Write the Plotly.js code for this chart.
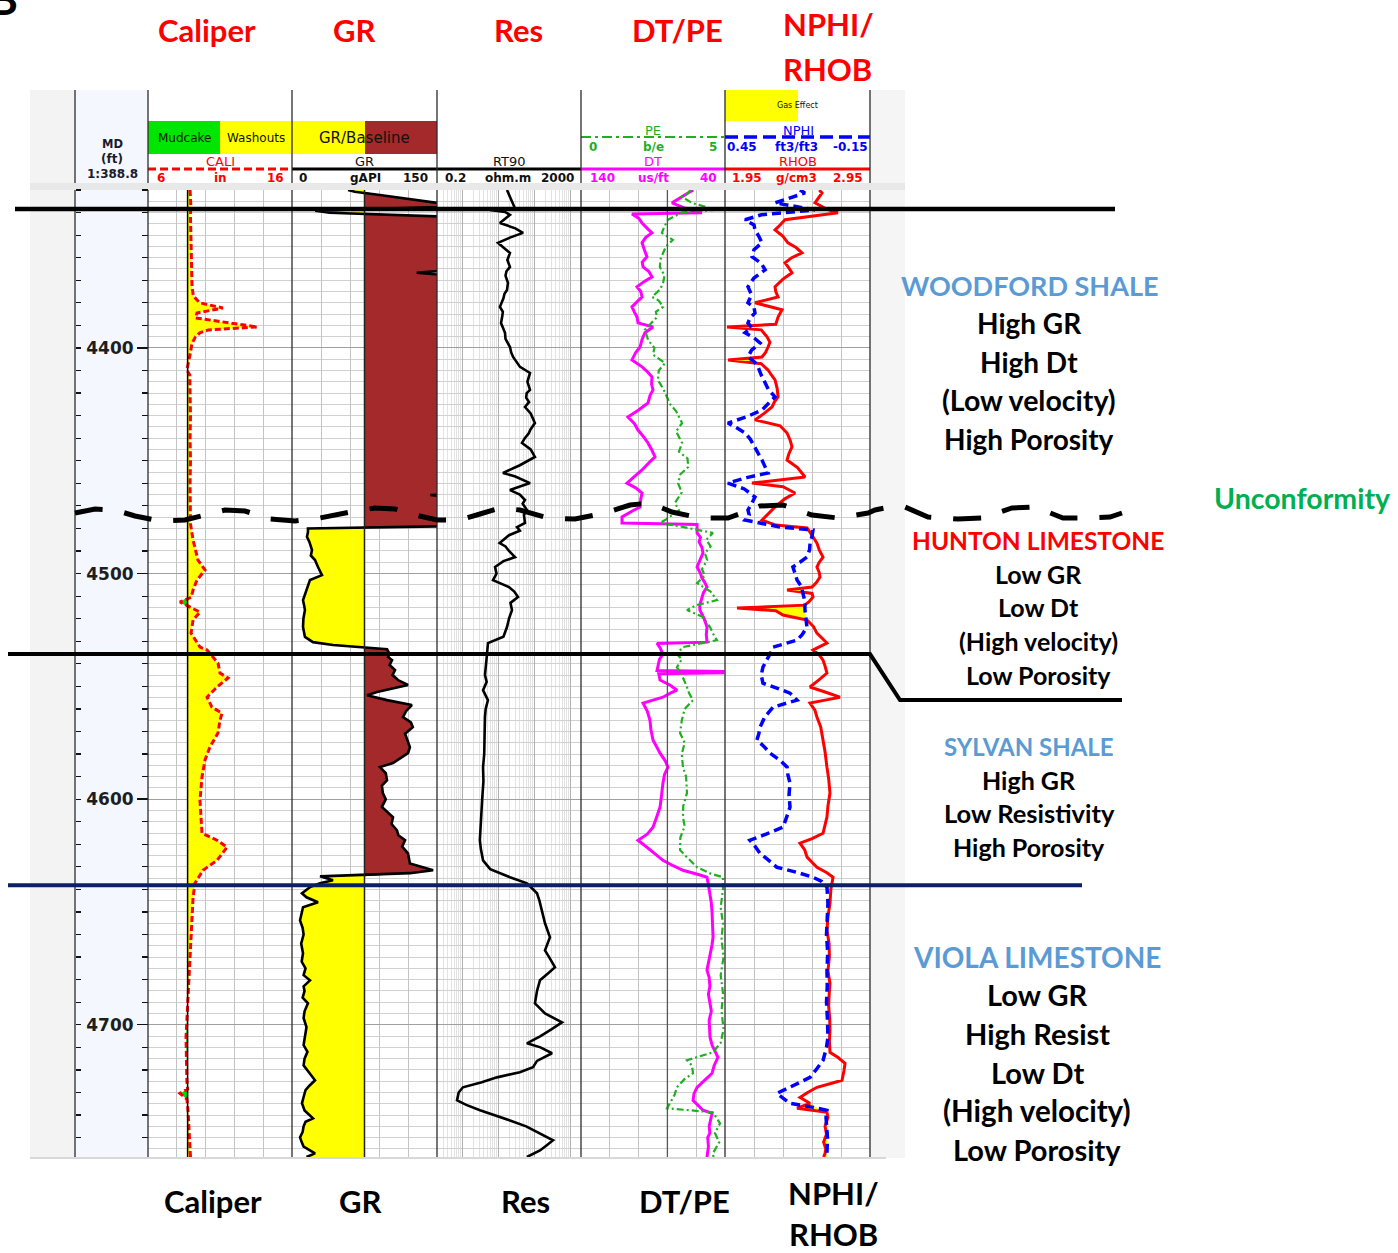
<!DOCTYPE html>
<html>
<head>
<meta charset="utf-8">
<script src="https://cdn.plot.ly/plotly-3.0.1.min.js"></script>
<style>
  html, body { margin: 0; padding: 0; background: #ffffff; }
  #log { width: 1398px; height: 1253px; }
</style>
</head>
<body>
<div id="log"></div>
<script>
// ---------------------------------------------------------------------------
// Well log samples: [measured depth (ft), reading]
// ---------------------------------------------------------------------------
const caliLog = [ // caliper, in
  [4330,8.92],[4336,8.97],[4342,8.95],[4350,8.97],[4358,9.0],[4366,9.03],[4373,9.06],[4377,9.15],
  [4380,9.6],[4382.3,11.2],[4384.5,9.4],[4386.7,9.3],[4388.9,11.5],[4390.7,13.6],[4392,10.2],
  [4393.3,9.6],[4395.1,9.3],[4398,9.05],[4402,8.95],[4409.8,8.7],[4412,8.9],[4420,8.92],[4430,8.95],
  [4440,8.92],[4450,8.95],[4460,8.92],[4468.7,8.92],[4478,8.95],[4485.1,9.13],[4494,9.47],
  [4498.4,9.96],[4502.9,9.4],[4507.3,9.13],[4510.5,9.0],[4512.6,8.22],[4514.9,8.92],[4517.1,9.61],
  [4520.6,9.13],[4526.4,8.99],[4532.6,9.61],[4533.9,10.1],[4537,10.51],[4539.7,10.86],[4544.1,11.0],
  [4546.3,11.56],[4550.3,10.79],[4554.8,10.1],[4559.2,10.44],[4561.9,11.14],[4565,11.0],[4570.7,10.86],
  [4576.9,10.3],[4582.6,9.96],[4590.2,9.75],[4600.5,9.61],[4615.1,9.75],[4618.2,10.79],[4621.3,11.49],
  [4624,11.14],[4627.1,10.79],[4631.5,9.82],[4637.3,9.26],[4643.5,9.13],[4661.2,8.99],[4690.5,8.78],
  [4705.5,8.64],[4725,8.7],[4728.5,8.75],[4730.4,8.22],[4733,8.7],[4737.9,8.78],[4750,8.9],
  [4757,8.92],[4758.6,8.95]
];

const grLog = [ // gamma ray, gAPI
  [4330,58],[4330.8,65],[4332.2,91],[4334,122],[4335.7,150],[4336.6,165],[4337.5,155],[4338,110],
  [4338.4,70],[4339.2,24],[4340.1,39],[4341,112],[4341.9,165],[4350,170],[4365.4,165],[4366.7,129],
  [4368,165],[4400,170],[4465,160],[4465.2,143],[4465.8,160],[4479,165],[4479.6,60],[4480,16.5],
  [4481.6,16.5],[4483.7,15.5],[4486,18],[4489.6,20.7],[4492,19.5],[4494,23.8],[4497.1,26.9],
  [4500.7,31],[4502.9,18.6],[4505,17],[4507.3,15.5],[4509.5,13.5],[4511.8,11.4],[4514,12.5],
  [4516.2,13.4],[4520,11.8],[4523.7,11.4],[4528.1,13.4],[4530.4,21.7],[4531.7,42.4],
  [4532.6,73.4],[4533.5,98.3],[4535.7,101],[4537,99.3],[4538.4,103.5],[4540.5,101],[4542.8,106.6],
  [4545,104],[4547.2,109.7],[4549.4,120],[4552.5,88],[4553.9,77.6],[4556.1,98.3],[4558.3,124],
  [4561,118],[4563.6,114.8],[4566,123],[4568.1,125],[4571,117],[4573.8,119],[4577,122],[4579.6,120],
  [4582,112],[4584,104.5],[4585.8,91],[4588.5,97],[4591.6,98.3],[4594,93],[4597.3,94],[4600,97],
  [4603.5,93],[4606,99],[4608,104.5],[4611,103],[4613.8,108.6],[4616,110],[4618.2,117],[4621,114],
  [4624,120],[4628.5,122],[4631.5,146],[4632.8,122],[4634.2,29],[4635.9,42.4],[4637.3,29],
  [4639,18.6],[4641.7,10.3],[4643.5,15],[4645.7,26.9],[4647.9,11.4],[4650.5,10],[4653.7,8.3],
  [4657,11],[4660,12],[4664,9.5],[4668.3,11.4],[4672,10],[4675,14],[4678,12],[4680.3,18.6],[4683,12],
  [4685,13],[4688,11],[4690.5,16.5],[4694,13],[4697,12],[4701,15],[4705.5,13.4],[4709,12],[4712,16],
  [4715,13],[4718,12],[4721,17],[4724.6,23.8],[4727,18],[4729,14],[4732,12],[4734.8,10.3],[4738,13],
  [4741.5,21.7],[4743,14],[4745,12],[4747.5,11],[4749.9,8.3],[4752,10],[4754,12],[4757,23.8],[4758.6,15]
];

const rt90Log = [ // deep resistivity, ohm.m
  [4330,17.6],[4333,21],[4336,25],[4338,29],[4338.8,5.9],[4339.7,15.5],[4341,21.3],[4344.6,11.2],
  [4347,30],[4349,49],[4351,22],[4353.4,9.9],[4355.5,14],[4357.9,21.3],[4361,18],[4364.1,21.3],
  [4366,17],[4368,16],[4371.2,18.7],[4374.3,17.6],[4376,15],[4378,14],[4381.8,11.2],[4384,13.5],
  [4386,13],[4389,12],[4393.3,15.5],[4396,16],[4399.6,21.3],[4402,23],[4404,26],[4406,31],[4408.4,40.4],
  [4411.1,76.6],[4413,70],[4415,65],[4418.6,76.6],[4420,62],[4422,60],[4424,72],[4426.2,55.6],
  [4429,80],[4433.3,105],[4436,80],[4438,70],[4440,55],[4442.1,45.9],[4445,80],[4448.3,105],
  [4450,70],[4452,40],[4455.4,13.6],[4457,30],[4459.9,76.6],[4463,21.3],[4465,40],[4467.4,55.6],
  [4469,48],[4471.8,63],[4474,52],[4477.6,55.6],[4479.4,33.4],[4481,40],[4483,20],[4486.5,11],
  [4488,16],[4490,20],[4492.7,29.4],[4494.5,14],[4497.1,8.2],[4500,9],[4502.9,7.2],[4506,20],
  [4508,28],[4510.4,35.6],[4513,22],[4516.2,24.2],[4520,20],[4523.7,17.6],[4528,14],[4530.8,5.2],
  [4535.7,4.9],[4540,4.6],[4545,4.3],[4548,4.8],[4551.7,3.8],[4556.1,5.2],[4560,4.5],[4563.6,4.3],
  [4570,4.2],[4575,4.0],[4580,4.1],[4585.8,3.8],[4592,3.9],[4600,3.6],[4610,3.4],[4618.2,3.1],
  [4622,3.3],[4627.1,3.8],[4631,6],[4634.6,21.3],[4637.3,63],[4641.7,120],[4645,140],[4649.2,165],
  [4655,200],[4661.2,275],[4667,200],[4670,260],[4674.5,379],[4677,250],[4680.3,145],[4685,120],
  [4690.5,105],[4695,200],[4698.9,593],[4702,300],[4705,150],[4708.2,63],[4710,150],[4712.6,313],
  [4716,120],[4718.8,93],[4721,40],[4723.3,9.3],[4725.5,3.5],[4727.7,1.05],[4730,0.8],[4733.5,0.72],
  [4735.5,1.3],[4737.9,3.13],[4740,8],[4742.4,21.3],[4745,60],[4748.1,145],[4751.2,334],[4753.5,220],
  [4755.7,145],[4758.6,63]
];

const dtLog = [ // sonic slowness, us/ft
  [4330,62],[4331.3,65.7],[4335.7,76.8],[4338,68],[4340.1,56],[4340.6,104.6],[4342.5,100],[4344.6,97.6],
  [4347,94],[4349,90.7],[4351,95],[4353.4,97.6],[4356.5,96],[4359.6,94.2],[4362,97.5],[4364.1,96.9],
  [4366,93],[4368.5,90.7],[4370.5,96],[4372.9,101.1],[4375,98.5],[4377.4,97.6],[4379.5,101],
  [4381.8,104.6],[4384,103],[4386.3,101.1],[4388.9,100.4],[4390.7,90],[4393.3,95.6],[4396,97.5],
  [4399.6,99],[4402,102],[4405.3,104.6],[4408.4,97.6],[4410.5,94],[4412.9,90.7],[4416,91],[4418.6,90],
  [4421,92],[4424.4,93.5],[4427.5,100],[4430.6,107.4],[4433.5,103],[4436.4,100.4],[4439,97],
  [4442.1,93.5],[4445,91],[4448.3,88.6],[4451,93],[4454.1,97.6],[4457,103],[4459.9,108.1],[4462,102],
  [4464.3,97.6],[4467,98.5],[4470.5,99],[4472.5,105],[4474.9,111.5],[4477.6,111.5],[4478.3,59.4],
  [4482,59.4],[4484,57],[4486,58],[4488.5,56],[4490.9,55.3],[4494,57.5],[4497.1,59.4],[4500,57],
  [4502,56],[4504,54],[4506,52.5],[4508.5,55],[4511,56],[4514,57.5],[4516.2,57.4],[4520,54.5],
  [4523.7,52.5],[4527,53],[4530.4,52.5],[4531,87.2],[4533,85],[4535.7,83.1],[4538,85.5],[4540,86],
  [4543,87.2],[4543.4,41.4],[4544,41.4],[4544.4,86],[4547.2,85.1],[4549.5,78],[4551.7,73.3],
  [4553,78],[4554.8,83.1],[4557.4,96.9],[4561,94],[4565,92.1],[4569,91.5],[4573.8,90],[4577,87.5],
  [4579.6,85.1],[4583,81.5],[4585.8,79.6],[4589,82],[4592.9,83.1],[4598,84],[4603.5,85.1],[4608,87.5],
  [4612.4,90],[4615.5,94],[4618.2,100.4],[4621.3,94.2],[4624,89],[4627.1,83.1],[4629.5,76],
  [4631.5,69.2],[4633.5,58],[4634.6,52.5],[4638,51.5],[4641.7,50.4],[4646,49.5],[4650,49],
  [4655,48.5],[4661.2,48.3],[4664.5,49],[4668,50],[4672,51.5],[4675.8,52.5],[4679,51],[4683,50.5],
  [4686.5,51.5],[4690.5,50.4],[4694,49.5],[4698,51],[4701.5,50.5],[4705.5,50.4],[4709,49],
  [4711.5,47],[4714.4,44.9],[4718,47.5],[4721.5,49],[4724.5,54],[4727.7,59.4],[4730.5,61.5],
  [4733.5,62.2],[4735.5,59],[4737.9,55.3],[4739.2,49],[4742,50],[4745,51],[4748,50.5],[4750,52],
  [4754,51.5],[4758.6,52.5]
];

const peLog = [ // photoelectric factor, b/e
  [4330,3.8],[4331.3,3.72],[4333,3.5],[4335.7,3.85],[4337,4.2],[4338.8,4.65],[4340,3.5],[4343.2,3.02],
  [4346,2.9],[4349,2.81],[4352.1,3.19],[4355,2.95],[4357.9,2.85],[4361,2.75],[4364.1,2.74],[4368,2.9],
  [4371.2,2.85],[4374,2.75],[4377.4,2.47],[4379,2.7],[4381.8,2.85],[4384,2.6],[4386.3,2.64],[4389,2.45],
  [4392,2.22],[4396.5,2.33],[4400,2.55],[4403,2.5],[4406.7,2.92],[4410,2.7],[4414.2,2.67],[4418,2.85],
  [4421.7,2.99],[4425,3.1],[4428,3.3],[4433.3,3.51],[4437,3.3],[4442.1,3.51],[4446,3.4],[4449,3.7],
  [4452.8,3.72],[4456,3.45],[4459.9,3.37],[4464,3.5],[4468.7,3.26],[4472,3.4],[4476.3,2.92],
  [4477.6,2.74],[4479,3.4],[4482,4.58],[4485,4.35],[4488,4.5],[4491,4.3],[4494,4.38],[4498,4.2],
  [4501,4.3],[4504.2,4.03],[4508,4.5],[4511.8,4.72],[4514,4.0],[4516.2,3.68],[4519,4.2],[4523.7,4.48],
  [4527,4.6],[4529.5,4.72],[4531,4.2],[4532.6,3.54],[4535.7,3.33],[4538,3.5],[4541.5,3.33],[4545,3.5],
  [4550.3,3.68],[4553,3.75],[4556.1,3.89],[4560,3.6],[4565,3.5],[4570.7,3.44],[4575,3.6],[4580,3.5],
  [4585.8,3.54],[4590,3.65],[4597.3,3.68],[4603,3.55],[4608,3.54],[4612,3.6],[4617,3.45],[4622.6,3.44],
  [4626,3.7],[4630.2,4.03],[4633,4.5],[4634.6,4.93],[4640,4.93],[4648,4.85],[4655,4.93],[4662,4.88],
  [4670,4.95],[4678,4.85],[4686,4.93],[4694,4.88],[4702,4.95],[4708,4.85],[4712.2,4.58],[4715.7,3.68],
  [4718,3.85],[4721.5,3.89],[4724,3.6],[4727.7,3.33],[4731,3.25],[4734.8,3.09],[4737,2.99],
  [4738.8,4.58],[4743.7,4.83],[4748,4.65],[4752,4.8],[4757,4.58],[4758.6,4.6]
];

const nphiLog = [ // neutron porosity, ft3/ft3
  [4330,0.14],[4331.3,0.119],[4335.7,0.243],[4338.8,0.078],[4341,0.3],[4343.2,0.367],[4345.5,0.33],
  [4347.7,0.326],[4350.5,0.31],[4353.4,0.297],[4356.5,0.33],[4359.6,0.338],[4362.5,0.3],[4365.4,0.284],
  [4369,0.33],[4372.9,0.355],[4376.5,0.34],[4380,0.355],[4382,0.33],[4384.5,0.326],[4386.5,0.345],
  [4388.9,0.355],[4391,0.34],[4393.3,0.367],[4395.5,0.33],[4397.8,0.305],[4401,0.34],[4404,0.355],
  [4406,0.33],[4408.4,0.313],[4412,0.3],[4415.5,0.284],[4418.5,0.27],[4421.7,0.243],[4424.5,0.27],
  [4427.5,0.297],[4430.5,0.36],[4433.3,0.438],[4435.5,0.4],[4437.7,0.367],[4440.5,0.345],
  [4443.9,0.326],[4447,0.31],[4449.7,0.297],[4452.5,0.285],[4455.4,0.272],[4457.5,0.36],
  [4459.9,0.438],[4462.5,0.37],[4466.1,0.326],[4469,0.34],[4471.8,0.355],[4474,0.35],[4476.3,0.367],
  [4479.4,0.222],[4480.7,0.086],[4483.5,0.09],[4486.5,0.098],[4489.5,0.1],[4492.7,0.111],[4495,0.14],
  [4497.1,0.169],[4500,0.16],[4502.9,0.152],[4505.5,0.135],[4508.6,0.127],[4512,0.12],[4516.2,0.119],
  [4520,0.115],[4523.7,0.111],[4527,0.13],[4529.5,0.152],[4531,0.2],[4532.6,0.251],[4535.7,0.264],
  [4538.5,0.28],[4541.5,0.293],[4545,0.3],[4548.6,0.293],[4551,0.23],[4553,0.181],[4556.1,0.152],
  [4559.2,0.251],[4563.5,0.285],[4568.1,0.305],[4571,0.31],[4573.8,0.318],[4576.5,0.29],
  [4579.6,0.264],[4583,0.22],[4585.8,0.193],[4589,0.19],[4592.9,0.181],[4598,0.185],[4603.5,0.181],
  [4608,0.195],[4612.4,0.21],[4615.5,0.28],[4618.2,0.347],[4621,0.325],[4624,0.305],[4627,0.27],
  [4630.2,0.235],[4632.5,0.15],[4634.6,0.086],[4636.5,0.05],[4639,0.028],[4646.1,0.024],[4653,0.028],
  [4660,0.03],[4668,0.025],[4675.8,0.028],[4683,0.027],[4690,0.03],[4698,0.026],[4705.5,0.024],
  [4710,0.03],[4715.7,0.044],[4719.5,0.07],[4723.3,0.098],[4725.5,0.14],[4727.7,0.181],[4730.4,0.235],
  [4732.5,0.21],[4734.8,0.181],[4736.5,0.09],[4737.9,0.028],[4741,0.032],[4745,0.03],[4750,0.026],
  [4757,0.028],[4758.6,0.03]
];

const rhobLog = [ // bulk density, g/cm3
  [4330,2.6],[4331.3,2.619],[4335.7,2.571],[4338.5,2.65],[4340.1,2.729],[4343.2,2.364],[4345.5,2.33],
  [4347.7,2.295],[4350.5,2.35],[4353.4,2.384],[4355.5,2.44],[4357.9,2.481],[4360,2.41],[4362.3,2.364],
  [4364.5,2.39],[4366.7,2.412],[4369.5,2.35],[4372.9,2.295],[4375,2.3],[4377.4,2.316],[4380,2.157],
  [4383.1,2.343],[4386.3,2.316],[4389.5,2.3],[4390.7,1.964],[4392,2.2],[4395.1,2.24],[4397.5,2.26],
  [4399.6,2.247],[4402,2.23],[4404,2.205],[4405.3,1.971],[4407,2.2],[4409.8,2.247],[4412,2.27],
  [4414.2,2.295],[4418,2.31],[4421.7,2.316],[4424,2.29],[4426.2,2.274],[4429,2.22],[4431.9,2.157],
  [4434.5,2.33],[4437.7,2.378],[4441,2.4],[4443.9,2.412],[4447,2.39],[4449.7,2.378],[4453,2.45],
  [4457.2,2.502],[4459.9,2.136],[4461.5,2.35],[4464.3,2.433],[4467,2.36],[4470.5,2.295],[4473.5,2.25],
  [4476.3,2.205],[4478.5,2.3],[4479.8,2.516],[4483,2.55],[4486.5,2.584],[4489.5,2.6],[4492.7,2.626],
  [4495,2.6],[4497.1,2.584],[4499.5,2.6],[4501.6,2.605],[4504,2.58],[4506,2.55],[4507.3,2.378],
  [4508.8,2.55],[4510.4,2.557],[4512.5,2.53],[4514,2.5],[4515.3,2.033],[4516.5,2.3],[4518.4,2.35],
  [4520.6,2.516],[4523.5,2.56],[4526.4,2.584],[4528.5,2.62],[4530.8,2.653],[4532.5,2.6],[4533.9,2.557],
  [4536,2.6],[4538.4,2.626],[4541,2.64],[4544.1,2.653],[4547,2.6],[4550.3,2.536],[4552.5,2.64],
  [4554.8,2.743],[4556,2.65],[4557.4,2.536],[4560.5,2.57],[4563.6,2.584],[4568,2.61],[4573.8,2.626],
  [4579,2.64],[4585.8,2.653],[4591,2.665],[4597.3,2.674],[4603,2.66],[4608,2.653],[4612,2.64],
  [4615.1,2.626],[4617.5,2.55],[4619.5,2.467],[4622.5,2.5],[4625.7,2.516],[4628,2.55],[4630.2,2.584],
  [4632.5,2.65],[4634.6,2.695],[4640,2.68],[4646.1,2.674],[4652,2.66],[4658.1,2.653],[4664,2.668],
  [4670,2.67],[4676,2.66],[4681.6,2.674],[4687,2.668],[4692,2.665],[4697,2.672],[4702.4,2.674],
  [4707,2.67],[4712.2,2.674],[4714.5,2.73],[4717.1,2.778],[4720.5,2.77],[4724.6,2.757],[4726,2.68],
  [4727.7,2.584],[4730,2.52],[4732.2,2.467],[4734.8,2.536],[4737,2.447],[4738.8,2.653],[4741,2.66],
  [4745,2.64],[4748.5,2.65],[4752,2.63],[4755,2.645],[4757,2.64],[4758.6,2.63]
];

// Reference values used by the fills
const BIT_SIZE = 8.75;      // in
const GR_BASELINE = 75;     // gAPI
const PE_MARKER = 3;        // b/e

// Formation tops (ft MD)
const TOP_WOODFORD = 4338.4;
const TOP_SYLVAN = 4535.7;
const TOP_VIOLA = 4638.1;
const SYLVAN_LABEL_LEVEL = 4556.1;

// Depth window shown
const DEPTH_TOP = 4330, DEPTH_BASE = 4758.6;

// ---------------------------------------------------------------------------
const W = 1398, H = 1253;
const fx = p => p / W;          // pixel column -> paper x
const fy = p => 1 - p / H;      // pixel row -> paper y
const Y_DOMAIN = [fy(1157), fy(190)];

const depths = log => log.map(p => p[0]);
const values = log => log.map(p => p[1]);

function interpAt(log, d) {
  for (let i = 1; i < log.length; i++) {
    if (d <= log[i][0]) {
      const [d0, v0] = log[i - 1], [d1, v1] = log[i];
      return v0 + (v1 - v0) * (d - d0) / (d1 - d0);
    }
  }
  return log[log.length - 1][1];
}
// neutron reading expressed on the density scale (0.45..-0.15 spans 1.95..2.95)
const nphiOnRhob = v => 1.95 + (0.45 - v) / 0.6;

const hidden = { hoverinfo: 'skip', showlegend: false };
function edgeTrace(xs, ys, xa) {
  return Object.assign({ x: xs, y: ys, xaxis: xa, yaxis: 'y', mode: 'lines', line: { width: 0 } }, hidden);
}
function fillTrace(xs, ys, xa, color) {
  return Object.assign({ x: xs, y: ys, xaxis: xa, yaxis: 'y', mode: 'lines', line: { width: 0 },
    fill: 'tonextx', fillcolor: color }, hidden);
}
function curve(log, xa, color, width, dash) {
  return Object.assign({ x: values(log), y: depths(log), xaxis: xa, yaxis: 'y', mode: 'lines',
    line: { color, width, dash: dash || 'solid' } }, hidden);
}
// empty trace that only registers a tick-carrying depth axis
function axisHolder(ya) {
  return Object.assign({ x: [], y: [], xaxis: 'x', yaxis: ya, mode: 'lines' }, hidden);
}

const caliD = depths(caliLog), grD = depths(grLog), rhobD = depths(rhobLog);

const traces = [
  // caliper: washout (yellow) and mudcake (green) against bit size
  edgeTrace(caliD.map(() => BIT_SIZE), caliD, 'x'),
  fillTrace(caliLog.map(p => Math.max(p[1], BIT_SIZE)), caliD, 'x', '#ffff00'),
  edgeTrace(caliD.map(() => BIT_SIZE), caliD, 'x'),
  fillTrace(caliLog.map(p => Math.min(p[1], BIT_SIZE)), caliD, 'x', '#00e000'),
  curve(caliLog, 'x', '#ff0000', 3, '6px,3px'),

  // gamma ray: shale (brown) / clean (yellow) around the baseline
  edgeTrace(grD.map(() => GR_BASELINE), grD, 'x2'),
  fillTrace(grLog.map(p => Math.max(p[1], GR_BASELINE)), grD, 'x2', '#a3292b'),
  edgeTrace(grD.map(() => GR_BASELINE), grD, 'x2'),
  fillTrace(grLog.map(p => Math.min(p[1], GR_BASELINE)), grD, 'x2', '#ffff00'),
  curve(grLog, 'x2', '#000000', 2.6),

  // resistivity
  curve(rt90Log, 'x3', '#000000', 2.6),

  // sonic and PE
  curve(peLog, 'x5', '#1fb01f', 2.2, '7px,3px,2px,3px'),
  curve(dtLog, 'x4', '#ff00ff', 3),

  // density-neutron with gas crossover shading
  edgeTrace(values(rhobLog), rhobD, 'x6'),
  fillTrace(rhobLog.map(p => Math.max(p[1], nphiOnRhob(interpAt(nphiLog, p[0])))), rhobD, 'x6', '#ffff00'),
  curve(rhobLog, 'x6', '#ff0000', 3),
  curve(nphiLog, 'x7', '#0000ff', 3.5, '9px,5px'),

  axisHolder('y2'),
  axisHolder('y3')
];

// ---------------------------------------------------------------------------
const baseX = {
  anchor: 'y', showticklabels: false, ticks: '', zeroline: false, showline: false,
  showgrid: true, gridcolor: '#c4c4c4', gridwidth: 1, fixedrange: true
};
const depthTicks = {
  range: [DEPTH_BASE, DEPTH_TOP], anchor: 'free', showticklabels: false, showgrid: false,
  zeroline: false, showline: false, fixedrange: true, tick0: 4400, dtick: 10, ticks: 'outside',
  tickwidth: 1.2, tickcolor: '#111'
};
const layout = {
  width: W, height: H,
  margin: { l: 0, r: 0, t: 0, b: 0, pad: 0 },
  paper_bgcolor: '#ffffff', plot_bgcolor: '#ffffff',
  showlegend: false,
  xaxis: Object.assign({}, baseX, { domain: [fx(148), fx(292)], range: [6, 16], tick0: 6, dtick: 2 }),
  xaxis2: Object.assign({}, baseX, { domain: [fx(292), fx(437)], range: [0, 150], tick0: 0, dtick: 30 }),
  xaxis3: Object.assign({}, baseX, {
    domain: [fx(437), fx(581)], type: 'log', range: [Math.log10(0.2), Math.log10(2000)], dtick: 1,
    gridcolor: '#b0b0b0',
    minor: { dtick: 'D1', showgrid: true, gridcolor: '#e2e2e2', gridwidth: 1 }
  }),
  xaxis4: Object.assign({}, baseX, { domain: [fx(581), fx(725)], range: [140, 40], tick0: 40, dtick: 20 }),
  xaxis5: Object.assign({}, baseX, { overlaying: 'x4', range: [0, 5], showgrid: false }),
  xaxis6: Object.assign({}, baseX, { domain: [fx(725), fx(870)], range: [1.95, 2.95], tick0: 1.95, dtick: 0.2 }),
  xaxis7: Object.assign({}, baseX, { overlaying: 'x6', range: [0.45, -0.15], showgrid: false }),
  yaxis: {
    domain: Y_DOMAIN, range: [DEPTH_BASE, DEPTH_TOP], anchor: 'free', position: fx(148), side: 'left',
    tick0: 4400, dtick: 100, ticks: 'outside', ticklen: 11, tickwidth: 1.4, tickcolor: '#111',
    tickfont: { family: 'DejaVu Sans', size: 17, color: '#1e1e1e', weight: 'bold' },
    showgrid: true, gridcolor: '#a0a0a0', gridwidth: 1, zeroline: false, showline: false,
    minor: { dtick: 5, ticks: '', showgrid: true, gridcolor: '#d0d0d0', gridwidth: 1 },
    fixedrange: true
  },
  // 10-ft depth ticks on both edges of the depth column
  yaxis2: Object.assign({}, depthTicks, { overlaying: 'y', position: fx(75), side: 'right', ticklen: 5 }),
  yaxis3: Object.assign({}, depthTicks, { overlaying: 'y', position: fx(148), side: 'left', ticklen: 6 })
};

// ---------------------------------------------------------------------------
// Panel furniture
const shapes = [];
function rect(x0, y0, x1, y1, fill, layer) {
  shapes.push({ type: 'rect', xref: 'paper', yref: 'paper', x0: fx(x0), x1: fx(x1), y0: fy(y0), y1: fy(y1),
    fillcolor: fill, line: { width: 0 }, layer: layer || 'below' });
}
function seg(x0, y0, x1, y1, color, width, dash) {
  shapes.push({ type: 'line', xref: 'paper', yref: 'paper', x0: fx(x0), x1: fx(x1), y0: fy(y0), y1: fy(y1),
    line: { color, width, dash: dash || 'solid' }, layer: 'above' });
}

rect(30, 90, 75, 1158, '#f3f3f3');
rect(870, 90, 905, 1158, '#f5f5f5');
rect(75, 90, 148, 1157, '#f4f8fe');
rect(30, 183, 905, 190, '#e8e8e8');
seg(30, 1158, 886, 1158, '#d8d8d8', 2);

// header colour keys
rect(148, 121, 220, 154, '#00e600');
rect(220, 121, 292, 154, '#ffff00');
rect(292, 121, 365, 154, '#ffff00');
rect(365, 121, 437, 154, '#a3292b');
rect(725, 90, 798, 121, '#ffff00');

// header curve keys
seg(148, 169, 292, 169, '#ff0000', 3, '8px,4px');
seg(292, 169, 437, 169, '#000000', 3);
seg(437, 169, 581, 169, '#000000', 3);
seg(581, 169, 725, 169, '#ff00ff', 3);
seg(725, 169, 870, 169, '#ff0000', 3);
seg(581, 137, 725, 137, '#1fb01f', 2.2, '10px,4px,3px,4px');
seg(725, 137, 870, 137, '#0000ff', 3.5, '13px,6px');

// reference lines inside tracks
shapes.push({ type: 'line', xref: 'x', yref: 'paper', x0: BIT_SIZE, x1: BIT_SIZE, y0: Y_DOMAIN[0], y1: Y_DOMAIN[1],
  line: { color: '#000000', width: 1.5 }, layer: 'above' });
shapes.push({ type: 'line', xref: 'x2', yref: 'paper', x0: GR_BASELINE, x1: GR_BASELINE, y0: Y_DOMAIN[0], y1: Y_DOMAIN[1],
  line: { color: '#222222', width: 1.5 }, layer: 'above' });
shapes.push({ type: 'line', xref: 'x5', yref: 'paper', x0: PE_MARKER, x1: PE_MARKER, y0: Y_DOMAIN[0], y1: Y_DOMAIN[1],
  line: { color: '#555555', width: 1.3 }, layer: 'above' });

// track borders (header part and log part)
[75, 148, 292, 437, 581, 725, 870].forEach(x => {
  seg(x, 90, x, 183, '#2b2b2b', 1.3);
  seg(x, 190, x, 1157, '#2b2b2b', 1.3);
});

// formation boundaries
shapes.push({ type: 'line', xref: 'paper', yref: 'y', x0: fx(15), x1: fx(1115), y0: TOP_WOODFORD, y1: TOP_WOODFORD,
  line: { color: '#000000', width: 4.5 }, layer: 'above' });
shapes.push({ type: 'path', xref: 'paper', yref: 'y',
  path: `M ${fx(8)} ${TOP_SYLVAN} L ${fx(870)} ${TOP_SYLVAN} L ${fx(900)} ${SYLVAN_LABEL_LEVEL} L ${fx(1122)} ${SYLVAN_LABEL_LEVEL}`,
  line: { color: '#000000', width: 4 }, layer: 'above' });
shapes.push({ type: 'line', xref: 'paper', yref: 'y', x0: fx(8), x1: fx(1082), y0: TOP_VIOLA, y1: TOP_VIOLA,
  line: { color: '#0b2163', width: 4 }, layer: 'above' });

// unconformity trace (wavy dashed)
const unconformityPts = [
  [75,513],[95,509],[115,510],[135,516],[160,521],[185,520],[205,515],[225,510],[245,511],[270,519],
  [295,521],[320,518],[350,512],[375,508],[395,509],[415,515],[437,520],[460,520],[480,514],[500,508],
  [520,510],[548,518],[575,519],[605,513],[630,505],[650,503],[672,512],[700,518],[728,518],[745,512],
  [760,506],[783,505],[812,515],[838,518],[868,513],[875,510],[890,507],[905,507],[928,517],[958,519],
  [982,518],[1000,512],[1012,508],[1035,507],[1063,518],[1088,518],[1110,517],[1122,513]
];
shapes.push({ type: 'path', xref: 'paper', yref: 'paper',
  path: unconformityPts.map((p, i) => (i ? 'L ' : 'M ') + fx(p[0]) + ' ' + fy(p[1])).join(' '),
  line: { color: '#000000', width: 5, dash: '28px,22px' }, layer: 'above' });

layout.shapes = shapes;

// ---------------------------------------------------------------------------
// Text
const notes = [];
function label(x, y, text, size, color, family, weight, extra) {
  notes.push(Object.assign({ xref: 'paper', yref: 'paper', x: fx(x), y: fy(y), text, showarrow: false,
    xanchor: 'center', yanchor: 'middle', borderpad: 0,
    font: { family: family || 'DejaVu Sans', size, color, weight: weight || 'normal' } }, extra || {}));
}
const HF = 'DejaVu Sans';
const BIG = 'Lato';

// track titles
label(207, 30, 'Caliper', 31, '#ff0000', BIG, 'bold');
label(354, 30, 'GR', 31, '#ff0000', BIG, 'bold');
label(518, 30, 'Res', 31, '#ff0000', BIG, 'bold');
label(677, 30, 'DT/PE', 31, '#ff0000', BIG, 'bold');
label(828, 24, 'NPHI/', 31, '#ff0000', BIG, 'bold');
label(827, 69, 'RHOB', 31, '#ff0000', BIG, 'bold');
label(213, 1201, 'Caliper', 31, '#000000', BIG, 'bold');
label(360, 1201, 'GR', 31, '#000000', BIG, 'bold');
label(525, 1201, 'Res', 31, '#000000', BIG, 'bold');
label(684, 1201, 'DT/PE', 31, '#000000', BIG, 'bold');
label(834, 1193, 'NPHI/', 31, '#000000', BIG, 'bold');
label(834, 1234, 'RHOB', 31, '#000000', BIG, 'bold');
label(19, -2, 'B', 44, '#000000', BIG, 'bold', { xanchor: 'right' });

// depth header
label(112, 143.5, 'MD', 11.5, '#1b1b2e', HF, 'bold');
label(112, 158.5, '(ft)', 12, '#1b1b2e', HF, 'bold');
label(112, 174, '1:388.8', 12, '#1b1b2e', HF, 'bold');

// caliper header
label(184, 138, 'Mudcake', 12, '#111111', HF);
label(256, 138, 'Washouts', 12, '#111111', HF);
label(220, 161, 'CALI', 13, '#ff0000', HF);
label(161, 178, '6', 12, '#ff0000', HF, 'bold');
label(220, 178, 'in', 12, '#ff0000', HF, 'bold');
label(275, 178, '16', 12, '#ff0000', HF, 'bold');

// GR header
label(364, 138, 'GR/Baseline', 15, '#111111', HF);
label(364, 161, 'GR', 13, '#111111', HF);
label(303, 178, '0', 12, '#111111', HF, 'bold');
label(365, 178, 'gAPI', 12, '#111111', HF, 'bold');
label(415, 178, '150', 12, '#111111', HF, 'bold');

// resistivity header
label(509, 161, 'RT90', 13, '#111111', HF);
label(455, 178, '0.2', 12, '#111111', HF, 'bold');
label(508, 178, 'ohm.m', 12, '#111111', HF, 'bold');
label(557, 178, '2000', 12, '#111111', HF, 'bold');

// sonic / PE header
label(653, 130, 'PE', 13, '#1fb01f', HF);
label(593, 147, '0', 12, '#1fb01f', HF, 'bold');
label(653, 147, 'b/e', 12, '#1fb01f', HF, 'bold');
label(713, 147, '5', 12, '#1fb01f', HF, 'bold');
label(653, 161, 'DT', 13, '#ff00ff', HF);
label(602, 178, '140', 12, '#ff00ff', HF, 'bold');
label(653, 178, 'us/ft', 12, '#ff00ff', HF, 'bold');
label(708, 178, '40', 12, '#ff00ff', HF, 'bold');

// density / neutron header
label(797, 106, 'Gas Effect', 8, '#111111', HF);
label(798, 130, 'NPHI', 13, '#0000ff', HF);
label(742, 147, '0.45', 12, '#0000ff', HF, 'bold');
label(796, 147, 'ft3/ft3', 12, '#0000ff', HF, 'bold');
label(850, 147, '-0.15', 12, '#0000ff', HF, 'bold');
label(798, 161, 'RHOB', 13, '#ff0000', HF);
label(747, 178, '1.95', 12, '#ff0000', HF, 'bold');
label(796, 178, 'g/cm3', 12, '#ff0000', HF, 'bold');
label(848, 178, '2.95', 12, '#ff0000', HF, 'bold');

// formation notes
const BLUE = '#5b9bd5';
label(1029, 285, 'WOODFORD SHALE', 27, BLUE, BIG, 'bold');
label(1029, 323, 'High GR', 28, '#000000', BIG, 'bold');
label(1029, 362, 'High Dt', 28, '#000000', BIG, 'bold');
label(1029, 400, '(Low velocity)', 28.5, '#000000', BIG, 'bold');
label(1029, 439, 'High Porosity', 28, '#000000', BIG, 'bold');

label(1302, 498, 'Unconformity', 28.5, '#00b050', BIG, 'bold');

label(1038, 540, 'HUNTON LIMESTONE', 24.5, '#ff0000', BIG, 'bold');
label(1038, 574, 'Low GR', 25, '#000000', BIG, 'bold');
label(1038, 607, 'Low Dt', 25, '#000000', BIG, 'bold');
label(1038, 641, '(High velocity)', 25, '#000000', BIG, 'bold');
label(1038, 675, 'Low Porosity', 25, '#000000', BIG, 'bold');

label(1029, 746, 'SYLVAN SHALE', 24, BLUE, BIG, 'bold');
label(1029, 780, 'High GR', 25, '#000000', BIG, 'bold');
label(1029, 813, 'Low Resistivity', 25.5, '#000000', BIG, 'bold');
label(1029, 847, 'High Porosity', 25, '#000000', BIG, 'bold');

label(1037, 957, 'VIOLA LIMESTONE', 28, BLUE, BIG, 'bold');
label(1037, 995, 'Low GR', 29, '#000000', BIG, 'bold');
label(1037, 1033, 'High Resist', 29, '#000000', BIG, 'bold');
label(1037, 1072, 'Low Dt', 29, '#000000', BIG, 'bold');
label(1037, 1110, '(High velocity)', 29.5, '#000000', BIG, 'bold');
label(1037, 1149, 'Low Porosity', 29, '#000000', BIG, 'bold');

layout.annotations = notes;

Plotly.newPlot('log', traces, layout, { displayModeBar: false, staticPlot: true });
</script>
</body>
</html>
